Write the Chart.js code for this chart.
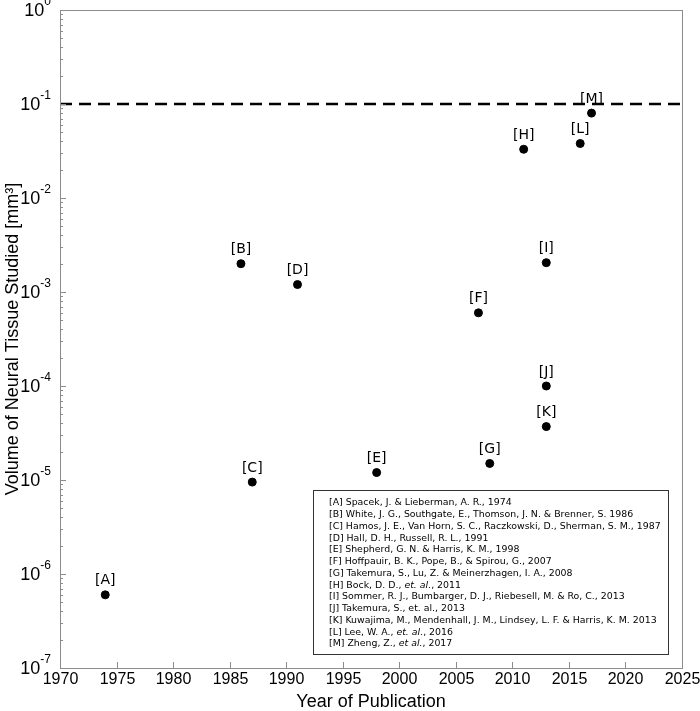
<!DOCTYPE html>
<html>
<head>
<meta charset="utf-8">
<script src="https://cdn.jsdelivr.net/npm/chart.js@4/dist/chart.umd.min.js"></script>
<style>
  html, body { margin: 0; padding: 0; background: #fff; }
  #wrap { width: 700px; height: 711px; }
</style>
</head>
<body>
<div id="wrap"><canvas id="volChart"></canvas></div>
<script>
// data
const letters = ['A', 'B', 'C', 'D', 'E', 'F', 'G', 'H', 'I', 'J', 'K', 'L', 'M'];
const years = [1974, 1986, 1987, 1991, 1998, 2007, 2008, 2011, 2013, 2013, 2013, 2016, 2017];
const volumes = [6e-7, 2e-3, 9.5e-6, 1.2e-3, 1.2e-5, 6e-4, 1.5e-5, 0.033, 2.05e-3, 1.0e-4, 3.7e-5, 0.038, 0.08];
const references = [
    ['[A] Spacek, J. & Lieberman, A. R., 1974'],
    ['[B] White, J. G., Southgate, E., Thomson, J. N. & Brenner, S. 1986'],
    ['[C] Hamos, J. E., Van Horn, S. C., Raczkowski, D., Sherman, S. M., 1987'],
    ['[D] Hall, D. H., Russell, R. L., 1991'],
    ['[E] Shepherd, G. N. & Harris, K. M., 1998'],
    ['[F] Hoffpauir, B. K., Pope, B., & Spirou, G., 2007'],
    ['[G] Takemura, S., Lu, Z. & Meinerzhagen, I. A., 2008'],
    ['[H] Bock, D. D., ', 'et. al.', ', 2011'],
    ['[I] Sommer, R. J., Bumbarger, D. J., Riebesell, M. & Ro, C., 2013'],
    ['[J] Takemura, S., et. al., 2013'],
    ['[K] Kuwajima, M., Mendenhall, J. M., Lindsey, L. F. & Harris, K. M. 2013'],
    ['[L] Lee, W. A., ', 'et. al.', ', 2016'],
    ['[M] Zheng, Z., ', 'et al.', ', 2017']
];
const xTicks = [1970, 1975, 1980, 1985, 1990, 1995, 2000, 2005, 2010, 2015, 2020, 2025];
const yExponents = [0, -1, -2, -3, -4, -5, -6, -7];
const thresholdValue = 0.1;

const points = years.map((y, i) => ({ x: y, y: volumes[i] }));

const axisFont = '"Liberation Sans", Arial, sans-serif';
const textFont = '"DejaVu Sans", sans-serif';

const decorPlugin = {
    id: 'decor',
    afterDraw(chart) {
        const c = chart.ctx;
        const area = chart.chartArea;
        const xs = chart.scales.x;
        const ys = chart.scales.y;
        c.save();

        // frame
        c.strokeStyle = '#8c8c8c';
        c.lineWidth = 1;
        c.strokeRect(area.left + 0.5, area.top + 0.5, area.right - area.left, area.bottom - area.top);

        // x ticks (inside) and labels
        c.fillStyle = '#000';
        c.font = '16px ' + axisFont;
        c.textAlign = 'center';
        c.textBaseline = 'top';
        xTicks.forEach(t => {
            const px = Math.round(xs.getPixelForValue(t)) + 0.5;
            c.beginPath();
            c.moveTo(px, area.bottom);
            c.lineTo(px, area.bottom - 6);
            c.stroke();
            c.fillText(String(t), px, area.bottom + 4);
        });

        // y major + minor ticks and labels
        yExponents.forEach(e => {
            const base = Math.pow(10, e);
            const py = Math.round(ys.getPixelForValue(base)) + 0.5;
            c.beginPath();
            c.moveTo(area.left, py);
            c.lineTo(area.left + 6, py);
            c.stroke();
            if (e < 0) {
                for (let m = 2; m <= 9; m++) {
                    const my = Math.round(ys.getPixelForValue(base * m)) + 0.5;
                    c.beginPath();
                    c.moveTo(area.left, my);
                    c.lineTo(area.left + 3, my);
                    c.stroke();
                }
            }
            const sup = String(e);
            c.font = '12px ' + axisFont;
            const supW = c.measureText(sup).width;
            c.textAlign = 'right';
            c.textBaseline = 'middle';
            c.fillText(sup, area.left - 9, py - 9);
            c.font = '18px ' + axisFont;
            c.fillText('10', area.left - 9 - supW, py + 1);
        });

        // axis titles
        c.font = '18px ' + axisFont;
        c.textAlign = 'center';
        c.textBaseline = 'alphabetic';
        c.fillText('Year of Publication', (area.left + area.right) / 2, 707);
        c.save();
        c.translate(18, (area.top + area.bottom) / 2);
        c.rotate(-Math.PI / 2);
        c.fillText('Volume of Neural Tissue Studied [mm\u00B3]', 0, 0);
        c.restore();

        // point labels
        c.font = '14px ' + textFont;
        c.textAlign = 'center';
        c.textBaseline = 'middle';
        const meta = chart.getDatasetMeta(1);
        meta.data.forEach((el, i) => {
            c.fillText('[' + letters[i] + ']', el.x, el.y - 14);
        });

        // reference box
        const boxL = 313.5, boxT = 490.5, boxR = 668.5, boxB = 654.5;
        c.fillStyle = '#fff';
        c.fillRect(boxL, boxT, boxR - boxL, boxB - boxT);
        c.strokeStyle = '#333';
        c.strokeRect(boxL, boxT, boxR - boxL, boxB - boxT);
        c.fillStyle = '#000';
        c.textAlign = 'left';
        c.textBaseline = 'middle';
        references.forEach((parts, i) => {
            let x = 329;
            const y = 503 + i * 11.75;
            parts.forEach((p, j) => {
                c.font = (j === 1 ? 'italic ' : '') + '9.4px ' + textFont;
                c.fillText(p, x, y);
                x += c.measureText(p).width;
            });
        });
        c.restore();
    }
};

const chart = new Chart(document.getElementById('volChart').getContext('2d'), {
    type: 'scatter',
    data: {
        datasets: [{
            type: 'line',
            label: 'limit',
            data: [{ x: xTicks[0], y: thresholdValue }, { x: xTicks[xTicks.length - 1], y: thresholdValue }],
            borderColor: '#000',
            borderWidth: 2.5,
            borderDash: [12, 7],
            pointRadius: 0,
            fill: false
        }, {
            label: 'Studies',
            data: points,
            backgroundColor: '#000',
            borderColor: '#000',
            pointRadius: 4,
            pointHoverRadius: 4
        }]
    },
    options: {
        responsive: true,
        maintainAspectRatio: false,
        animation: false,
        layout: { padding: { left: 60, top: 10, right: 18, bottom: 43 } },
        scales: {
            x: { type: 'linear', display: false, min: 1970, max: 2025 },
            y: { type: 'logarithmic', display: false, min: 1e-7, max: 1 }
        },
        plugins: {
            legend: { display: false },
            tooltip: { enabled: false }
        }
    },
    plugins: [decorPlugin]
});
</script>
</body>
</html>
